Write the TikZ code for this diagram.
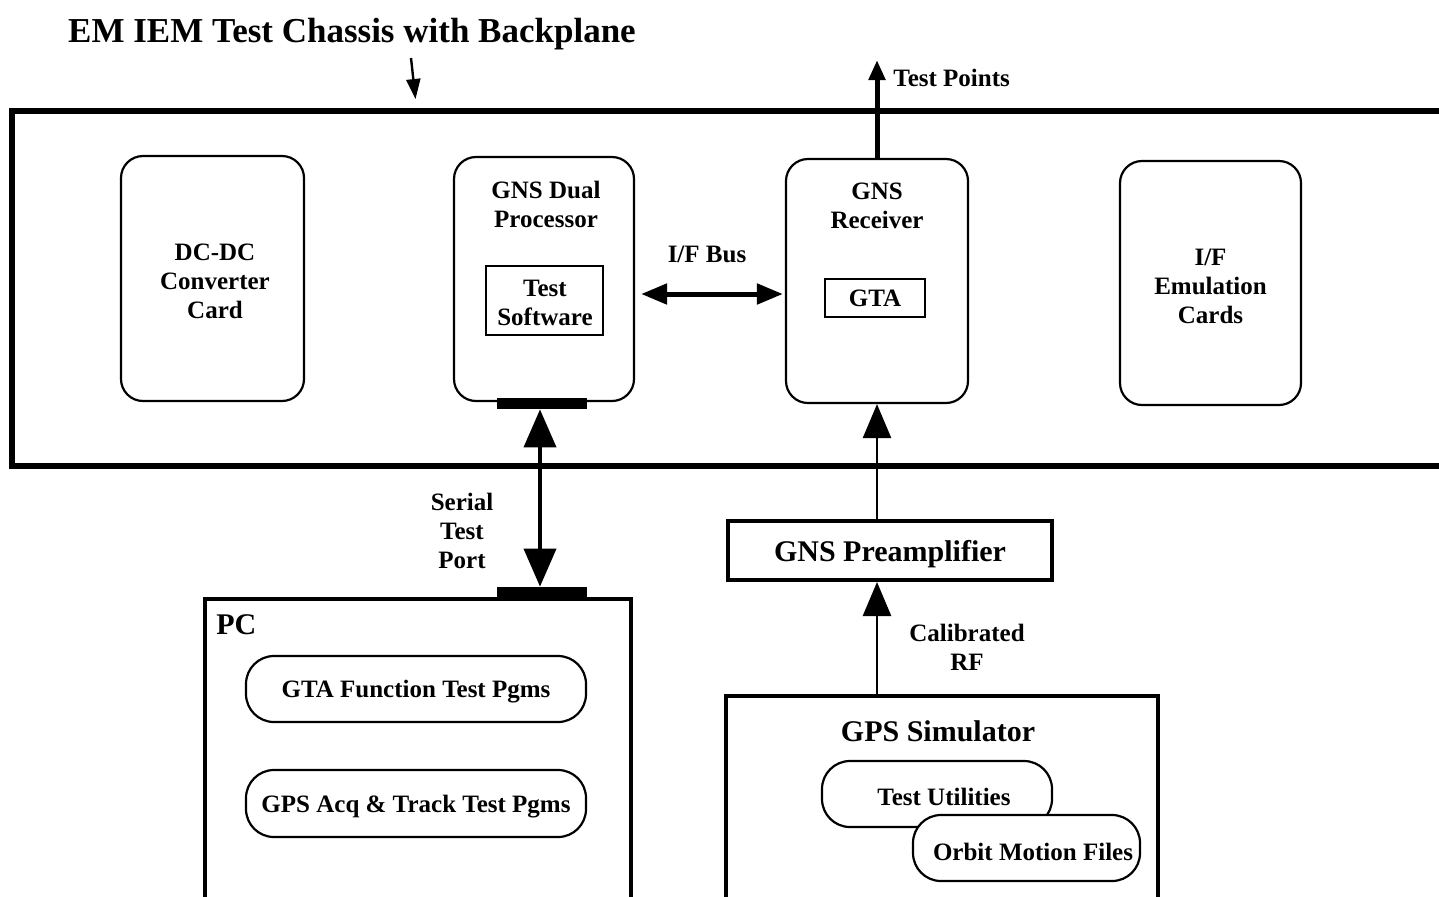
\documentclass[tikz,border=0pt]{standalone}
\usepackage{fontspec}
\setmainfont{Liberation Serif}
\usetikzlibrary{arrows.meta,calc}
\begin{document}
\begin{tikzpicture}[x=0.5pt,y=-0.5pt,
  every node/.style={font=\bfseries\fontsize{12.5}{14.5}\selectfont, align=center, inner sep=0pt, text depth=0pt},
  card/.style={draw, line width=1.1pt, rounded corners=11pt},
  pgm/.style={draw, line width=1.1pt, rounded corners=14pt, fill=white},
  innerbox/.style={draw, line width=1pt},
  bar/.style={fill=black, draw=none},
  outerbox/.style={draw, line width=1.6pt},
  big/.style={font=\bfseries\fontsize{15}{18}\selectfont},
  chassis/.style={line width=2.6pt},
  busarrow/.style={line width=2.5pt, {Triangle[length=13pt,width=10pt]}-{Triangle[length=13pt,width=10pt]}},
  tparrow/.style={line width=2.5pt, -{Triangle[length=10pt,width=8pt]}},
  serialarrow/.style={line width=2pt, {Triangle[length=19pt,width=16pt]}-{Triangle[length=19pt,width=16pt]}},
  rfarrow/.style={line width=1.3pt, -{Triangle[length=17pt,width=14pt]}},
  thinarrow/.style={line width=1.2pt, -{Triangle[length=10pt,width=7pt]}}
]
\useasboundingbox (0,0) rectangle (1439,896);
\clip (0,0) rectangle (1439,896);

% title
\node[font=\bfseries\fontsize{17.5}{20}\selectfont] (title) at (352,30) {EM IEM Test Chassis with Backplane};
\coordinate (ta) at (411,58);
\coordinate (tb) at (415.5,99);
\draw[thinarrow] (ta) -- (tb);

% chassis
\draw[chassis] (1460,111) -- (12,111) -- (12,466) -- (1460,466);

% cards
\node[card, minimum width=91.5pt, minimum height=122.5pt] (dcdc) at (212.5,278.5) {};
\node (dcdclabel) at (215,281.5) {DC-DC\\Converter\\Card};
\node[card, minimum width=90pt, minimum height=122pt] (proc) at (544,279) {};
\node (proclabel) at (546,204.5) {GNS Dual\\Processor};
\node[innerbox, minimum width=58.5pt, minimum height=34.5pt] (testsw) at (544.5,300.5) {};
\node (testswlabel) at (545,302.5) {Test\\Software};
\node[card, minimum width=91pt, minimum height=122pt] (recv) at (877,281) {};
\node (recvlabel) at (877,205.5) {GNS\\Receiver};
\node[innerbox, minimum width=50pt, minimum height=19pt] (gta) at (875,298) {GTA};
\node[card, minimum width=90.5pt, minimum height=122pt] (ifem) at (1210.5,283) {};
\node (ifemlabel) at (1210.5,286.5) {I/F\\Emulation\\Cards};

% I/F bus
\node (ifbus) at (707,254) {I/F Bus};
\coordinate (busy) at (0,294);
\draw[busarrow] ([xshift=3pt]proc.east |- busy) -- ([xshift=-1pt]recv.west |- busy);

% test points
\coordinate (tpend) at (877,60);
\draw[tparrow] (recv.north) -- (tpend);
\node[anchor=west] (tplabel) at (893,78) {Test Points};

% serial port
\node[bar, minimum width=45pt, minimum height=5.5pt] (procbar) at (542,403.5) {};
\node[bar, minimum width=45pt, minimum height=6pt] (pcbar) at (542,593) {};
\draw[serialarrow] (procbar.south -| 540,0) -- (pcbar.north -| 540,0);
\node (seriallabel) at (462,531) {Serial\\Test\\Port};

% preamp
\node[draw, line width=2pt, minimum width=162pt, minimum height=29.5pt, big] (preamp) at (890,550.5) {GNS Preamplifier};
\draw[rfarrow] (preamp.north -| recv.south) -- (recv.south);

% GPS simulator
\node[outerbox, minimum width=216pt, minimum height=112pt] (gpssim) at (942,808) {};
\node[big] (gpslabel) at (938,731) {GPS Simulator};
\draw[rfarrow] (gpssim.north -| recv.south) -- (preamp.south -| recv.south);
\node (callabel) at (967,647.5) {Calibrated\\RF};
\node[pgm, minimum width=115pt, minimum height=33pt] (testutil) at (937,794) {};
\node (testutillabel) at (944,797) {Test Utilities};
\node[pgm, minimum width=113.5pt, minimum height=33pt] (orbit) at (1026.5,848) {};
\node (orbitlabel) at (1033,852) {Orbit Motion Files};

% PC
\node[outerbox, minimum width=213pt, minimum height=160.5pt] (pc) at (418,759.5) {};
\node[big, anchor=west] (pclabel) at (216,625) {PC};
\node[pgm, minimum width=170pt, minimum height=33pt] (gtafn) at (416,689) {GTA Function Test Pgms};
\node[pgm, minimum width=170pt, minimum height=33.5pt] (gpsacq) at (416,803.5) {GPS Acq \& Track Test Pgms};
\end{tikzpicture}
\end{document}
